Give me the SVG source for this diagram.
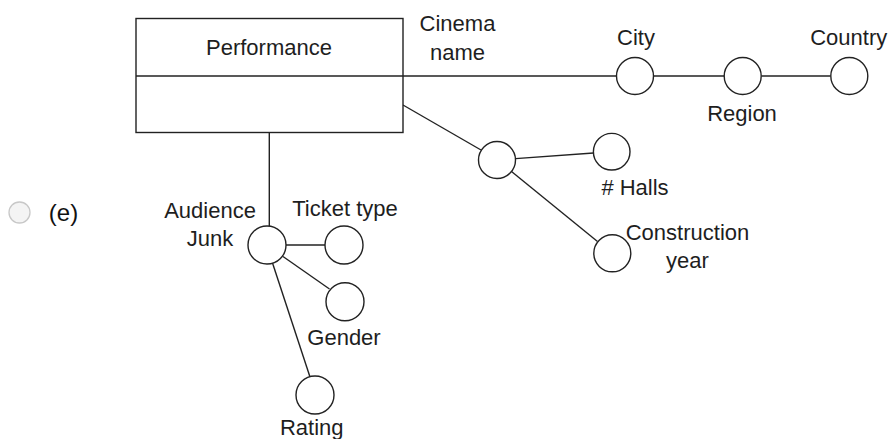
<svg xmlns="http://www.w3.org/2000/svg" width="893" height="439" viewBox="0 0 893 439">
<style>
.t{font-family:"Liberation Sans",Arial,sans-serif;font-size:22px;fill:#1e1e1e;text-anchor:middle}
.c{fill:#fff;stroke:#222;stroke-width:1.4}
.l{stroke:#222;stroke-width:1.4;fill:none}
</style>
<rect width="893" height="439" fill="#fff"/>
<g id="option">
<circle cx="19.5" cy="212.5" r="10.5" fill="#f4f4f4" stroke="#c8c8c8" stroke-width="1.3"/>
<text x="63.5" y="221" class="t" style="font-size:24px;fill:#111">(e)</text>
</g>
<g id="connectors">
<line class="l" x1="403" y1="76" x2="616.5" y2="76"/>
<line class="l" x1="653.5" y1="76" x2="724" y2="76"/>
<line class="l" x1="761.5" y1="76" x2="830.5" y2="76"/>
<line class="l" x1="403" y1="105" x2="481" y2="150"/>
<line class="l" x1="515.5" y1="158.6" x2="593.5" y2="153"/>
<line class="l" x1="511.5" y1="171.5" x2="597.5" y2="241.5"/>
<line class="l" x1="269.3" y1="132.5" x2="269.3" y2="226.2"/>
<line class="l" x1="286" y1="245" x2="325" y2="245"/>
<line class="l" x1="283" y1="256.5" x2="329.5" y2="289"/>
<line class="l" x1="272.5" y1="263" x2="310" y2="377"/>
</g>
<g id="performance">
<rect x="136" y="18.5" width="267" height="114" fill="#fff" stroke="#222" stroke-width="1.4"/>
<line class="l" x1="136" y1="76" x2="403" y2="76"/>
<text x="269" y="55" class="t">Performance</text>
</g>
<g id="cinema-name">
<text x="457.5" y="30.5" class="t">Cinema</text>
<text x="457.5" y="60" class="t">name</text>
</g>
<g id="city"><circle class="c" cx="635" cy="76" r="18.5"/><text x="636" y="45" class="t">City</text></g>
<g id="region"><circle class="c" cx="742.7" cy="76" r="18.5"/><text x="742" y="120.5" class="t">Region</text></g>
<g id="country"><circle class="c" cx="849.3" cy="76" r="18.5"/><text x="848.7" y="45" class="t">Country</text></g>
<g id="cinema"><circle class="c" cx="497" cy="160" r="18.5"/></g>
<g id="halls"><circle class="c" cx="611.7" cy="151.7" r="18.3"/><text x="635" y="195" class="t"># Halls</text></g>
<g id="construction-year"><circle class="c" cx="612.3" cy="253.3" r="18.5"/><text x="687.5" y="240" class="t">Construction</text><text x="687.5" y="268" class="t">year</text></g>
<g id="audience-junk"><circle class="c" cx="267" cy="245" r="19"/><text x="210" y="218" class="t">Audience</text><text x="210" y="245.5" class="t">Junk</text></g>
<g id="ticket-type"><circle class="c" cx="344" cy="245" r="19"/><text x="345" y="216" class="t">Ticket type</text></g>
<g id="gender"><circle class="c" cx="345" cy="301.7" r="19"/><text x="344" y="345" class="t">Gender</text></g>
<g id="rating"><circle class="c" cx="315" cy="395" r="19"/><text x="311.7" y="435" class="t">Rating</text></g>
</svg>
